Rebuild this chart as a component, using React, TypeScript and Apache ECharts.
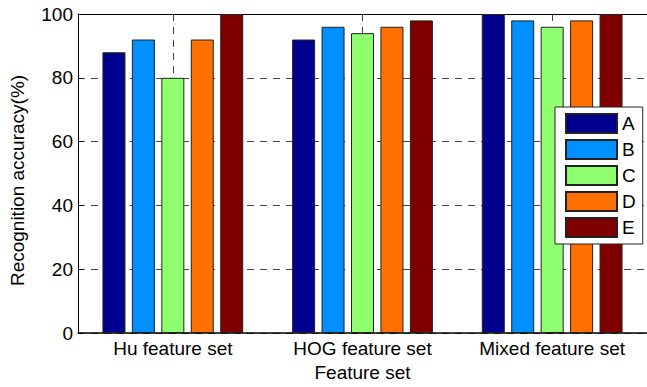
import React, { useEffect, useRef } from "react";
import * as echarts from "echarts";

const categories = ["Hu feature set", "HOG feature set", "Mixed feature set"];
const seriesNames = ["A", "B", "C", "D", "E"];
const valuesA = [88, 92, 100];
const valuesB = [92, 96, 98];
const valuesC = [80, 94, 96];
const valuesD = [92, 96, 98];
const valuesE = [100, 98, 100];
const seriesColors = ["#00008F", "#008FFF", "#8FFF70", "#FF7000", "#800000"];
const yTicks = [0, 20, 40, 60, 80, 100];

const FONT = "'Liberation Sans', Arial, Helvetica, sans-serif";

export default function App() {
  const ref = useRef<HTMLDivElement>(null);
  useEffect(() => {
    if (!ref.current) return;
    const chart = echarts.init(ref.current, undefined, { renderer: "svg" });
    const allValues = [valuesA, valuesB, valuesC, valuesD, valuesE];
    const gridLine = { color: "#444", width: 1, type: [7, 6] as number[] };
    chart.setOption({
      animation: false,
      backgroundColor: "#fff",
      grid: { left: 77, top: 14, bottom: 51, right: -3 },
      legend: {
        orient: "vertical",
        left: 555,
        top: 107,
        padding: [6, 7, 6, 10],
        icon: "rect",
        itemWidth: 51,
        itemHeight: 19,
        itemGap: 5,
        backgroundColor: "#fff",
        borderColor: "#222",
        borderWidth: 1,
        borderRadius: 0,
        textStyle: { fontFamily: FONT, fontSize: 19, color: "#000" },
        data: seriesNames,
      },
      xAxis: [
        {
          type: "category",
          data: categories,
          position: "bottom",
          axisLine: { show: true, lineStyle: { color: "#000", width: 1.5 } },
          axisTick: { show: false },
          axisLabel: { fontFamily: FONT, fontSize: 19, color: "#000", margin: 6 },
          splitLine: { show: false },
          name: "Feature set",
          nameLocation: "middle",
          nameGap: 30,
          nameTextStyle: { fontFamily: FONT, fontSize: 19, color: "#000" },
        },
        {
          type: "category",
          data: ["0", "1", "2", "3", "4", "5", "6"],
          boundaryGap: false,
          position: "top",
          axisLine: { show: true, lineStyle: { color: "#000", width: 1 } },
          axisTick: { show: false },
          axisLabel: { show: false },
          splitLine: {
            show: true,
            interval: (i: number) => i % 2 === 1,
            lineStyle: gridLine,
          },
        },
      ],
      yAxis: {
        type: "value",
        min: 0,
        max: 100,
        interval: 20,
        axisLine: { show: true, lineStyle: { color: "#000", width: 1 } },
        axisTick: { show: true, inside: true, length: 5, lineStyle: { color: "#000" } },
        axisLabel: {
          fontFamily: FONT,
          fontSize: 19,
          color: "#000",
          margin: 5,
          formatter: (v: number) => (yTicks.includes(v) ? String(v) : ""),
        },
        splitLine: { show: true, lineStyle: gridLine },
        name: "Recognition accuracy(%)",
        nameLocation: "middle",
        nameGap: 51,
        nameTextStyle: { fontFamily: FONT, fontSize: 19, color: "#000", padding: [0, 14, 0, 0] },
      },
      series: seriesNames.map((name, i) => ({
        name,
        type: "bar",
        xAxisIndex: 0,
        data: allValues[i],
        barWidth: 23,
        barGap: "28%",
        itemStyle: { color: seriesColors[i], borderColor: "#222", borderWidth: 1 },
      })),
    });
    return () => chart.dispose();
  }, []);
  return (
    <div
      ref={ref}
      style={{ position: "fixed", left: 0, top: 0, width: 647, height: 387 }}
    />
  );
}
